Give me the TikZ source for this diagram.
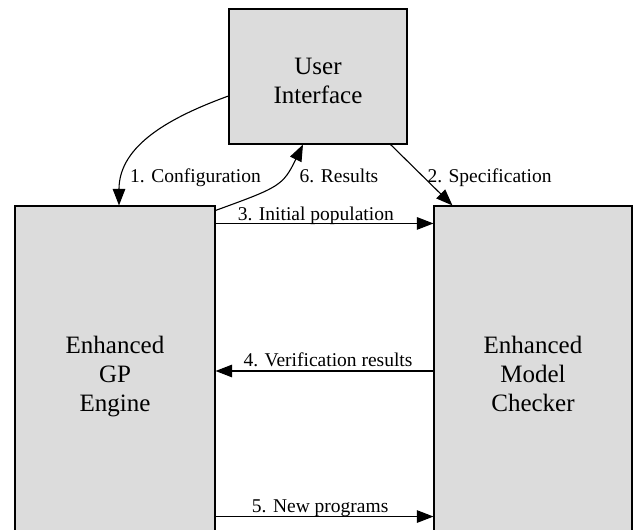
\documentclass[tikz,border=0pt]{standalone}
\usepackage{fontspec}
\setmainfont{Liberation Serif}
\usetikzlibrary{arrows.meta}

\definecolor{boxgray}{RGB}{220,220,220}

\tikzset{
  block/.style={draw, line width=1.1pt, fill=boxgray, align=center,
    text depth=0pt, font=\fontsize{25}{29}\selectfont},
  flow/.style={line width=1.1pt, -{Triangle[length=16.5pt,width=12.5pt]}},
  lbl/.style={font=\fontsize{19.5}{22}\selectfont, inner sep=0pt},
}

\begin{document}
\begin{tikzpicture}[x=1pt, y=1pt]

\clip (0,0) rectangle (635,530);

\node[block, minimum width=178pt, minimum height=135pt] (ui) at (318,453.5) {};
\node[align=center, font=\fontsize{25}{29}\selectfont] (uitext) at ([yshift=-4pt]ui.center) {User\\Interface};
\node[block, minimum width=200pt, minimum height=336pt] (gp) at (115,156) {Enhanced\\GP\\Engine};
\node[block, minimum width=198pt, minimum height=336pt] (mc) at (533,156) {Enhanced\\Model\\Checker};

\draw[flow] ([yshift=-19.5pt]ui.west) to[out=200, in=90] ([xshift=4pt]gp.north);
\node[lbl, anchor=base] (l1) at (195.5,347) {1. Configuration};

\draw[flow] ([yshift=-5pt]gp.north east)
  to[out=20, in=244, out distance=68pt, in distance=46pt] ([xshift=-15pt]ui.south);
\node[lbl, anchor=base] (l6) at (339,347) {6. Results};

\draw[flow] ([xshift=-17pt]ui.south east) -- ([xshift=19pt]mc.north west);
\node[lbl, anchor=base] (l2) at (489.5,347) {2. Specification};

\draw[flow] ([yshift=-18pt]gp.north east) --
  node[lbl, pos=0.46, anchor=base, yshift=3pt] (l3) {3. Initial population}
  ([yshift=-18pt]mc.north west);

\draw[flow] ([yshift=3pt]mc.west) --
  node[lbl, pos=0.484, anchor=base, yshift=4pt] (l4) {4. Verification results}
  ([yshift=3pt]gp.east);

\draw[flow] ([yshift=26pt]gp.south east) --
  node[lbl, pos=0.48, anchor=base, yshift=4pt] (l5) {5. New programs}
  ([yshift=26pt]mc.south west);

\end{tikzpicture}
\end{document}
